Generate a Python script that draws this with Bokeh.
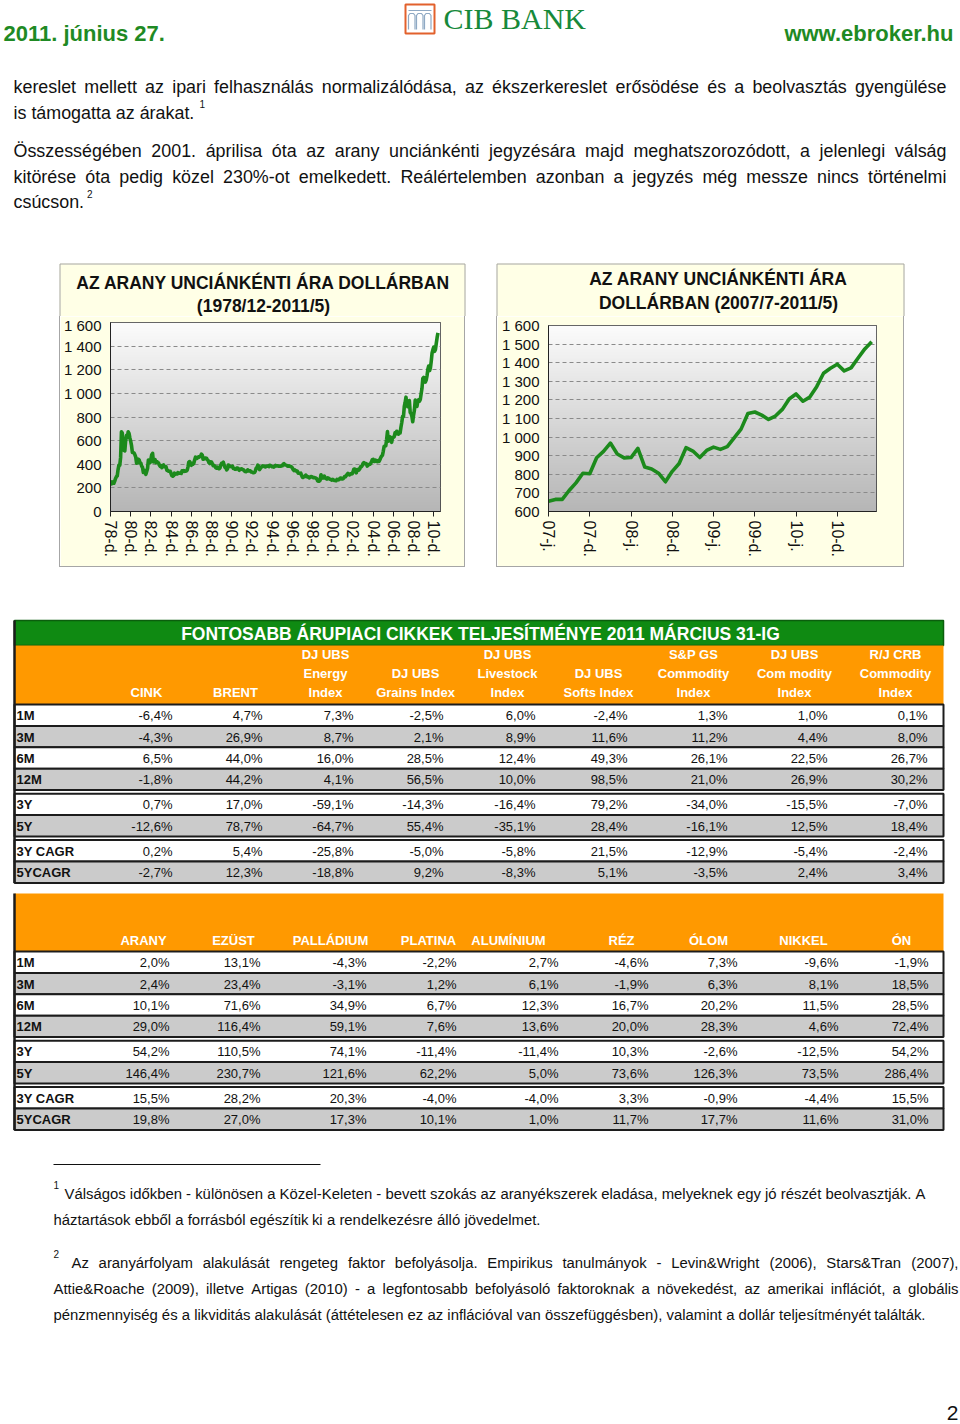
import math
import unicodedata
import numpy as np
from bokeh.plotting import figure
from bokeh.layouts import column, row
from bokeh.models import Range1d, FixedTicker, Spacer
from bokeh.core.properties import value
from bokeh.embed import file_html
from bokeh.resources import INLINE

FONT = "Liberation Sans"

# ---------------- data: gold price, monthly, USD/oz (1978/12 - 2011/5) ----------------
GOLD_1978_1982 = [226,
    233, 251, 241, 239, 257, 280, 295, 301, 355, 392, 392, 456,
    675, 665, 553, 517, 514, 600, 644, 627, 674, 661, 623, 595,
    557, 500, 499, 495, 480, 460, 409, 410, 443, 437, 413, 410,
    384, 374, 330, 350, 334, 315, 339, 364, 436, 422, 414, 444]
GOLD_1983_1987 = [
    481, 492, 420, 432, 438, 413, 423, 416, 411, 393, 382, 388,
    371, 386, 394, 381, 377, 378, 348, 348, 341, 341, 341, 320,
    303, 299, 304, 325, 316, 317, 317, 330, 323, 326, 325, 322,
    345, 339, 346, 340, 342, 343, 348, 376, 418, 423, 398, 391,
    408, 401, 409, 438, 460, 450, 450, 461, 460, 465, 467, 486]
GOLD_1988_1992 = [
    477, 442, 444, 452, 452, 451, 438, 431, 413, 406, 420, 419,
    404, 388, 390, 384, 371, 367, 375, 365, 362, 367, 394, 409,
    410, 417, 393, 374, 369, 352, 362, 394, 388, 381, 381, 378,
    383, 364, 363, 358, 357, 367, 368, 357, 349, 359, 360, 361,
    355, 354, 344, 338, 337, 341, 353, 343, 345, 344, 335, 334]
GOLD_1993_1997 = [
    329, 329, 330, 342, 367, 372, 392, 379, 355, 364, 374, 383,
    387, 382, 384, 377, 381, 385, 385, 380, 391, 389, 384, 379,
    379, 376, 382, 391, 385, 387, 386, 383, 383, 383, 386, 387,
    400, 405, 396, 393, 392, 385, 383, 387, 383, 381, 378, 369,
    355, 347, 352, 344, 344, 341, 324, 324, 323, 325, 306, 289]
GOLD_1998_2002 = [
    289, 297, 296, 308, 299, 292, 293, 284, 289, 296, 294, 291,
    287, 287, 286, 282, 277, 261, 256, 257, 265, 311, 293, 283,
    284, 300, 286, 280, 275, 285, 282, 275, 273, 270, 266, 272,
    266, 262, 263, 261, 272, 270, 268, 273, 283, 283, 276, 276,
    282, 295, 294, 303, 314, 322, 314, 310, 319, 317, 319, 333]
GOLD_2003_2007 = [
    357, 359, 340, 328, 355, 356, 351, 360, 378, 379, 390, 407,
    414, 405, 406, 404, 384, 392, 398, 400, 406, 420, 439, 442,
    424, 423, 434, 428, 422, 430, 424, 438, 456, 469, 476, 510,
    550, 555, 557, 610, 676, 596, 633, 632, 598, 586, 627, 629,
    631, 665, 655, 679, 667, 655, 665, 665, 713, 754, 806, 803]
GOLD_2008_2011 = [
    889, 923, 968, 909, 888, 890, 939, 839, 829, 806, 760, 816,
    858, 943, 925, 890, 928, 946, 934, 949, 996, 1043, 1127, 1135,
    1118, 1095, 1113, 1149, 1205, 1232, 1193, 1215, 1271, 1343, 1370, 1392,
    1356, 1372, 1424, 1474, 1512]

LEFT_TITLE = ["AZ ARANY UNCIÁNKÉNTI ÁRA DOLLÁRBAN", "(1978/12-2011/5)"]
LEFT_X_LABELS = ["78-d.", "80-d.", "82-d.", "84-d.", "86-d.", "88-d.", "90-d.", "92-d.", "94-d.",
                 "96-d.", "98-d.", "00-d.", "02-d.", "04-d.", "06-d.", "08-d.", "10-d."]
LEFT_Y_TICKS = [0, 200, 400, 600, 800, 1000, 1200, 1400, 1600]
LEFT_Y_LABELS = ["0", "200", "400", "600", "800", "1 000", "1 200", "1 400", "1 600"]

# gold price 2007/6 - 2011/5, monthly
GOLD_RECENT = [655, 665, 665, 713, 754, 806, 803,
               889, 923, 968, 909, 888, 890, 939, 839, 829, 806, 760, 816,
               858, 943, 925, 890, 928, 946, 934, 949, 996, 1043, 1127, 1135,
               1118, 1095, 1113, 1149, 1205, 1232, 1193, 1215, 1271, 1343, 1370, 1392,
               1356, 1372, 1424, 1474, 1512]
RIGHT_TITLE = ["AZ ARANY UNCIÁNKÉNTI ÁRA", "DOLLÁRBAN (2007/7-2011/5)"]
RIGHT_X_LABELS = ["07-j.", "07-d.", "08-j.", "08-d.", "09-j.", "09-d.", "10-j.", "10-d."]
RIGHT_Y_TICKS = [600, 700, 800, 900, 1000, 1100, 1200, 1300, 1400, 1500, 1600]
RIGHT_Y_LABELS = ["600", "700", "800", "900", "1 000", "1 100", "1 200", "1 300", "1 400", "1 500", "1 600"]

# ---------------- data: commodity tables ----------------
ROW_LABELS = ["1M", "3M", "6M", "12M", "3Y", "5Y", "3Y CAGR", "5YCAGR"]

T1_TITLE = "FONTOSABB ÁRUPIACI CIKKEK TELJESÍTMÉNYE 2011 MÁRCIUS 31-IG"
T1_COLUMNS = ["CINK", "BRENT", "DJ UBS\nEnergy\nIndex", "DJ UBS\nGrains Index", "DJ UBS\nLivestock\nIndex",
              "DJ UBS\nSofts Index", "S&P GS\nCommodity\nIndex", "DJ UBS\nCom modity\nIndex", "R/J CRB\nCommodity\nIndex"]
T1_1M = [-6.4, 4.7, 7.3, -2.5, 6.0, -2.4, 1.3, 1.0, 0.1]
T1_3M = [-4.3, 26.9, 8.7, 2.1, 8.9, 11.6, 11.2, 4.4, 8.0]
T1_6M = [6.5, 44.0, 16.0, 28.5, 12.4, 49.3, 26.1, 22.5, 26.7]
T1_12M = [-1.8, 44.2, 4.1, 56.5, 10.0, 98.5, 21.0, 26.9, 30.2]
T1_3Y = [0.7, 17.0, -59.1, -14.3, -16.4, 79.2, -34.0, -15.5, -7.0]
T1_5Y = [-12.6, 78.7, -64.7, 55.4, -35.1, 28.4, -16.1, 12.5, 18.4]
T1_3YCAGR = [0.2, 5.4, -25.8, -5.0, -5.8, 21.5, -12.9, -5.4, -2.4]
T1_5YCAGR = [-2.7, 12.3, -18.8, 9.2, -8.3, 5.1, -3.5, 2.4, 3.4]

T2_COLUMNS = ["ARANY", "EZÜST", "PALLÁDIUM", "PLATINA", "ALUMÍNIUM", "RÉZ", "ÓLOM", "NIKKEL", "ÓN"]
T2_1M = [2.0, 13.1, -4.3, -2.2, 2.7, -4.6, 7.3, -9.6, -1.9]
T2_3M = [2.4, 23.4, -3.1, 1.2, 6.1, -1.9, 6.3, 8.1, 18.5]
T2_6M = [10.1, 71.6, 34.9, 6.7, 12.3, 16.7, 20.2, 11.5, 28.5]
T2_12M = [29.0, 116.4, 59.1, 7.6, 13.6, 20.0, 28.3, 4.6, 72.4]
T2_3Y = [54.2, 110.5, 74.1, -11.4, -11.4, 10.3, -2.6, -12.5, 54.2]
T2_5Y = [146.4, 230.7, 121.6, 62.2, 5.0, 73.6, 126.3, 73.5, 286.4]
T2_3YCAGR = [15.5, 28.2, 20.3, -4.0, -4.0, 3.3, -0.9, -4.4, 15.5]
T2_5YCAGR = [19.8, 27.0, 17.3, 10.1, 1.0, 11.7, 17.7, 11.6, 31.0]

# ---------------- text metrics (Arial / Liberation Sans) ----------------
REG_W, BOLD_W = {}, {}
for chars, w in [(" !,./:;ftI", 278), ("ijl", 222), ("r-()", 333), ("ckvsxyzJ", 500),
                 ("abdeghnopqu0123456789?L", 556), ("ABEKPSVXY&", 667), ("FTZ", 611),
                 ("CDHNRUw", 722), ("GOQ", 778), ("Mm", 833), ("W", 944), ("%", 889)]:
    for c in chars:
        REG_W[c] = w
for chars, w in [(" !,./:;ijlI", 278), ("ft-()", 333), ("r", 389), ("z", 500),
                 ("aceksvxy0123456789J", 556), ("bdghnopquFTZL", 611), ("ABCDHKNRU&", 722),
                 ("EPSVXY", 667), ("wGOQ", 778), ("m%", 889), ("M", 833), ("W", 944)]:
    for c in chars:
        BOLD_W[c] = w


def em(s, bold=False):
    tab = BOLD_W if bold else REG_W
    tot = 0
    for ch in s:
        base = unicodedata.normalize("NFD", ch)[0]
        tot += tab.get(ch, tab.get(base, 556))
    return tot / 1000.0


def put_text(p, xs, ys, texts, size, bold=False, color="#111111", align="left", baseline="middle", font=FONT):
    p.text(x=xs, y=ys, text=texts, text_font=value(font), text_font_size=f"{size:.2f}px",
           text_font_style="bold" if bold else "normal", text_color=color,
           text_align=align, text_baseline=baseline)


def put_justified(p, line, x0, x1, y, size, bold=False, color="#111111"):
    words = line.split(" ")
    ws = [em(w, bold) * size for w in words]
    gap = (x1 - x0 - sum(ws)) / max(len(words) - 1, 1)
    xs, x = [], x0
    for w in ws:
        xs.append(x)
        x += w + gap
    put_text(p, xs, [y] * len(words), words, size, bold, color)


def blank(w, h, x0, x1, ytop, ybot, fill="white"):
    p = figure(width=w, height=h, x_range=Range1d(x0, x1), y_range=Range1d(ybot, ytop),
               output_backend="svg", toolbar_location=None, x_axis_type=None, y_axis_type=None,
               title=None, min_border=0, outline_line_color=None, background_fill_color=fill,
               border_fill_color=fill)
    p.grid.visible = False
    return p


CHART_BG = "#FFFFE6"
BOX_EDGE = "#A6A6A6"
LINE_GREEN = "#1C8A1C"
TITLE_SIZE = 17.5
SPLIT = 316      # page y where the top canvas ends and the plot canvases begin

# ---------------- top: header + paragraph + chart headings (page y 0..316) ----------------
GREEN_HDR = "#1F8A24"
top = blank(960, SPLIT, 0, 960, 0, SPLIT)
put_text(top, [3], [33], ["2011. június 27."], 22, bold=True, color=GREEN_HDR)
put_text(top, [953], [33], ["www.ebroker.hu"], 22, bold=True, color=GREEN_HDR, align="right")
top.quad(left=405, right=434, top=4, bottom=33, fill_color="white", line_color="#E2612C", line_width=2)
top.multi_line(xs=[[408, 408, 409.5, 413, 414.5, 414.5], [416, 416, 417.5, 421, 422.5, 422.5],
                   [424, 424, 425.5, 429, 430.5, 430.5], [408, 431]],
               ys=[[29, 15, 13, 13, 15, 29], [29, 15, 13, 13, 15, 29], [29, 15, 13, 13, 15, 29], [10, 10]],
               line_color="#8FA9C4", line_width=1.2)
put_text(top, [443], [18], ["CIB BANK"], 30, color="#17893A", font="Liberation Serif")

PARA = [
    ("kereslet mellett az ipari felhasználás normalizálódása, az ékszerkereslet erősödése és a beolvasztás gyengülése", 13, 946, 86, True),
    ("is támogatta az árakat.", 13, 194, 112, False),
    ("Összességében 2001. áprilisa óta az arany unciánkénti jegyzésára majd meghatszorozódott, a jelenlegi válság", 13, 946, 150, True),
    ("kitörése óta pedig közel 230%-ot emelkedett. Reálértelemben azonban a jegyzés még messze nincs történelmi", 13, 946, 176, True),
    ("csúcson.", 13, 85, 201, False),
]
psize = min((x1 - x0) / em(t) for t, x0, x1, y, j in PARA)
for t, x0, x1, y, j in PARA:
    if j:
        put_justified(top, t, x0, x1, y, psize)
    else:
        put_text(top, [x0], [y], [t], psize)
put_text(top, [13 + em("is támogatta az árakat.") * psize + 5], [103], ["1"], 10)
put_text(top, [13 + em("csúcson.") * psize + 3], [193], ["2"], 10)

# upper part of the two chart boxes (pale background, border, two-line headings)
for (bx0, bx1), lines, cx, cys in [((59, 465), LEFT_TITLE, 263, [282, 305]),
                                   ((496, 904), RIGHT_TITLE, 718, [278, 302])]:
    top.quad(left=bx0, right=bx1, top=263, bottom=SPLIT, fill_color=CHART_BG, line_color=None)
    top.multi_line(xs=[[bx0 + 0.5, bx0 + 0.5, bx1 - 0.5, bx1 - 0.5]],
                   ys=[[SPLIT, 263.5, 263.5, SPLIT]], line_color=BOX_EDGE, line_width=1)
    put_text(top, [cx] * len(lines), cys, lines, TITLE_SIZE, bold=True, align="center")

# ---------------- charts ----------------


def gradient(n=200):
    t = np.linspace(0.0, 1.0, n)
    g = (182 + t * (252 - 182)).astype(np.uint8)
    img = np.empty((n, 2), dtype=np.uint32)
    v = img.view(dtype=np.uint8).reshape((n, 2, 4))
    v[:, :, 0] = g[:, None]
    v[:, :, 1] = g[:, None]
    v[:, :, 2] = g[:, None]
    v[:, :, 3] = 255
    return img


def gold_chart(w, h, borders, x_end, y0, y1, ys, xstep, xlabels, yticks, ylabels):
    bl, br, bt, bb = borders
    p = figure(width=w, height=h, x_range=Range1d(0, x_end), y_range=Range1d(y0, y1),
               output_backend="svg", toolbar_location=None, title=None,
               min_border_left=bl, min_border_right=br, min_border_top=bt, min_border_bottom=bb,
               border_fill_color=CHART_BG, background_fill_color="#e6e6e6",
               outline_line_color="#333333", outline_line_width=1)
    r = p.image_rgba(image=[gradient()], x=0, y=y0, dw=x_end, dh=y1 - y0)
    r.level = "image"
    xs = list(range(len(ys)))
    p.line(xs, ys, line_color=LINE_GREEN, line_width=3.6, line_join="round")
    xt = [i * xstep for i in range(len(xlabels))]
    ax = p.xaxis[0]
    ax.ticker = FixedTicker(ticks=xt)
    ax.major_label_overrides = {t: l for t, l in zip(xt, xlabels)}
    ax.major_label_orientation = -math.pi / 2
    ax.major_label_text_font = FONT
    ax.major_label_text_font_size = "16px"
    ax.major_label_text_color = "#111111"
    ax.major_tick_out = 5
    ax.major_tick_in = 0
    ax.major_label_standoff = 4
    ax.axis_line_color = "#222222"
    ax.major_tick_line_color = "#222222"
    ay = p.yaxis[0]
    ay.ticker = FixedTicker(ticks=yticks)
    ay.major_label_overrides = {t: l for t, l in zip(yticks, ylabels)}
    ay.major_label_text_font = FONT
    ay.major_label_text_font_size = "15px"
    ay.major_label_text_color = "#111111"
    ay.major_tick_out = 0
    ay.major_tick_in = 0
    ay.major_label_standoff = 9
    ay.axis_line_color = "#222222"
    p.xgrid.visible = False
    p.ygrid.grid_line_color = "#8a8a8a"
    p.ygrid.grid_line_dash = "4 3"
    p.ygrid.grid_line_width = 1
    return p


def edge(w, h):
    return Spacer(width=w, height=h, styles={"background-color": BOX_EDGE})


GOLD_LONG = GOLD_1978_1982 + GOLD_1983_1987 + GOLD_1988_1992 + GOLD_1993_1997 + GOLD_1998_2002 + GOLD_2003_2007 + GOLD_2008_2011
CH = 567 - SPLIT - 1   # chart canvas height (one pixel left for the box's bottom edge)

# left chart canvas: page x 60..464 ; frame x 110..440, y 322..511
left_chart = gold_chart(404, CH, (50, 24, 322 - SPLIT, 566 - 511), 392, 0, 1600, GOLD_LONG, 24,
                        LEFT_X_LABELS, LEFT_Y_TICKS, LEFT_Y_LABELS)
# right chart canvas: page x 497..903 ; frame x 548..876, y 325..511
right_chart = gold_chart(406, CH, (51, 27, 325 - SPLIT, 566 - 511), 47.7, 600, 1600, GOLD_RECENT, 6,
                         RIGHT_X_LABELS, RIGHT_Y_TICKS, RIGHT_Y_LABELS)

chart_row = row(
    Spacer(width=59, height=CH + 1), edge(1, CH + 1),
    column(left_chart, edge(404, 1)), edge(1, CH + 1),
    Spacer(width=31, height=CH + 1), edge(1, CH + 1),
    column(right_chart, edge(406, 1)), edge(1, CH + 1),
    Spacer(width=56, height=CH + 1),
)

# ---------------- bottom: tables + footnotes (page y 567..1424) ----------------
bot = blank(960, 857, 0, 960, 567, 1424)
ORANGE = "#FF9900"
TGREEN = "#0F8A12"
ROW_GRAY = "#CBCBCB"
EDGE = "#1C1C1C"


def pct(v):
    return f"{v:.1f}".replace(".", ",") + "%"


def row_tops(start, rh=21.4, gap=3.6):
    tops, y = [], start
    for i in range(8):
        if i in (4, 6):
            y += gap
        tops.append(y)
        y += rh
    return tops, rh


def draw_rows(p, start, data, rights):
    tops, rh = row_tops(start)
    fills = ["white" if i % 2 == 0 else ROW_GRAY for i in range(8)]
    p.quad(left=14, right=943, top=tops, bottom=[t + rh for t in tops], fill_color=fills,
           line_color=EDGE, line_width=2)
    cy = [t + rh / 2 + 0.5 for t in tops]
    put_text(p, [16] * 8, cy, ROW_LABELS, 13, bold=True)
    xs, ys, tx = [], [], []
    for vals, y in zip(data, cy):
        for v, xr in zip(vals, rights):
            xs.append(xr)
            ys.append(y)
            tx.append(pct(v))
    put_text(p, xs, ys, tx, 13, align="right")
    return tops[-1] + rh


# table 1
bot.quad(left=14, right=943, top=620, bottom=645, fill_color=TGREEN, line_color="#0B5E0D", line_width=1.5)
put_text(bot, [480], [633.5], [T1_TITLE], 600 / em(T1_TITLE, True), bold=True, color="white", align="center")
bot.quad(left=14, right=943, top=645, bottom=704, fill_color=ORANGE, line_color=None)
T1_CENTERS = [146, 235, 325, 415, 507, 598, 693, 794, 895]
T1_RIGHTS = [172, 262, 353, 443, 535, 627, 727, 827, 927]
HL = [654, 673, 692]
hx, hy, ht = [], [], []
for lab, cx in zip(T1_COLUMNS, T1_CENTERS):
    parts = lab.split("\n")
    for j, part in enumerate(parts):
        hx.append(cx)
        hy.append(HL[3 - len(parts) + j])
        ht.append(part)
put_text(bot, hx, hy, ht, 13, bold=True, color="white", align="center")
end1 = draw_rows(bot, 704, [T1_1M, T1_3M, T1_6M, T1_12M, T1_3Y, T1_5Y, T1_3YCAGR, T1_5YCAGR], T1_RIGHTS)
bot.segment(x0=[14], y0=[620], x1=[14], y1=[end1], line_color=EDGE, line_width=2.5)

# table 2
bot.quad(left=14, right=943, top=893, bottom=951, fill_color=ORANGE, line_color=None)
T2_CENTERS = [143, 233, 330, 428, 508, 621, 708, 803, 901]
T2_RIGHTS = [169, 260, 366, 456, 558, 648, 737, 838, 928]
put_text(bot, T2_CENTERS, [940] * 9, T2_COLUMNS, 13, bold=True, color="white", align="center")
end2 = draw_rows(bot, 951, [T2_1M, T2_3M, T2_6M, T2_12M, T2_3Y, T2_5Y, T2_3YCAGR, T2_5YCAGR], T2_RIGHTS)
bot.segment(x0=[14], y0=[893], x1=[14], y1=[end2], line_color=EDGE, line_width=2.5)

# footnotes
bot.segment(x0=[53], y0=[1164], x1=[320], y1=[1164], line_color="#111111", line_width=1)
FN = [
    ("Válságos időkben - különösen a Közel-Keleten - bevett szokás az aranyékszerek eladása, melyeknek egy jó részét beolvasztják. A", 64, 925, 1193),
    ("háztartások ebből a forrásból egészítik ki a rendelkezésre álló jövedelmet.", 53, 540, 1219),
    ("Az aranyárfolyam alakulását rengeteg faktor befolyásolja. Empirikus tanulmányok - Levin&Wright (2006), Stars&Tran (2007),", 71, 958, 1262),
    ("Attie&Roache (2009), illetve Artigas (2010) - a legfontosabb befolyásoló faktoroknak a növekedést, az amerikai inflációt, a globális", 53, 958, 1288),
    ("pénzmennyiség és a likviditás alakulását (áttételesen ez az inflációval van összefüggésben), valamint a dollár teljesítményét találták.", 53, 925, 1314),
]
fsize = min((x1 - x0) / em(t) for t, x0, x1, y in FN)
for t, x0, x1, y in FN:
    put_justified(bot, t, x0, x1, y, fsize)
put_text(bot, [53, 53], [1184, 1253], ["1", "2"], 10)
put_text(bot, [958], [1412], ["2"], 21, align="right")

layout = column(top, chart_row, bot)

with open("out.html", "w", encoding="utf-8") as f:
    f.write(file_html(layout, INLINE))
